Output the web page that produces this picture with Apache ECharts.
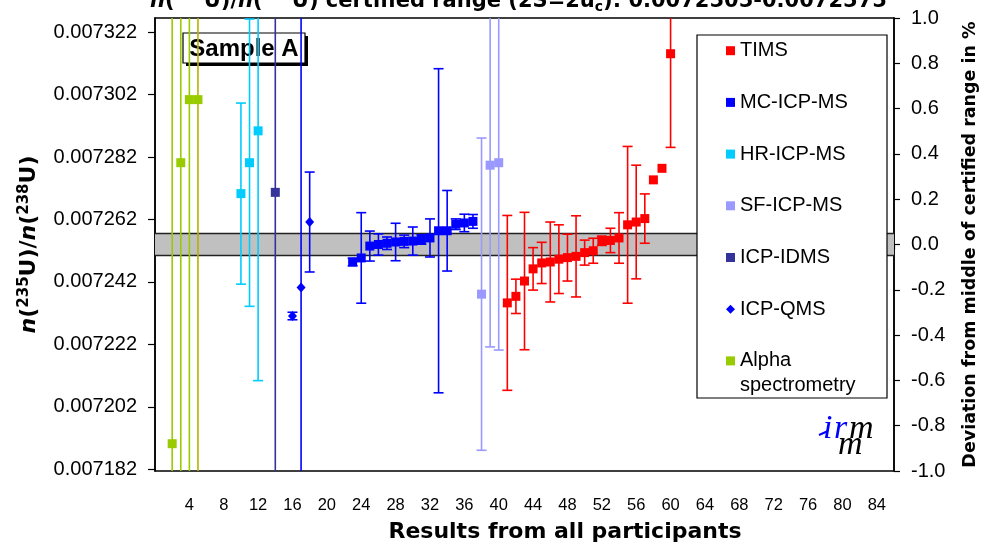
<!DOCTYPE html>
<html>
<head>
<meta charset="utf-8">
<script src="https://cdn.jsdelivr.net/npm/echarts@6/dist/echarts.min.js"></script>
<style>
  html, body { margin: 0; padding: 0; background: #ffffff; }
  #chart { width: 989px; height: 548px; }
</style>
</head>
<body>
<div id="chart"></div>
<script>
// Certified range of n(235U)/n(238U) and its middle
const certLow = 0.0072505;
const certHigh = 0.0072575;
const certMid = 0.007254;

// Axis tick labels
const xTickLabels = [4, 8, 12, 16, 20, 24, 28, 32, 36, 40, 44, 48, 52, 56, 60, 64, 68, 72, 76, 80, 84];
const ratioTickLabels = [0.007182, 0.007202, 0.007222, 0.007242, 0.007262, 0.007282, 0.007302, 0.007322];

// Participant results: position, reported ratio, expanded uncertainty
const timsX   = [41, 42, 43, 44, 45, 46, 47, 48, 49, 50, 51, 52, 53, 54, 55, 56, 57, 58, 59, 60];
const timsVal = [0.0072353, 0.0072374, 0.0072423, 0.0072462, 0.0072481, 0.0072484, 0.0072493, 0.0072498,
                 0.0072502, 0.0072514, 0.0072520, 0.0072552, 0.0072553, 0.0072561, 0.0072603, 0.0072612,
                 0.0072623, 0.0072747, 0.0072784, 0.0073151];
const timsErr = [0.0000280, 0.0000055, 0.0000220, 0.0000068, 0.0000066, 0.0000128, 0.0000110, 0.0000075,
                 0.0000130, 0.0000040, 0.0000040, 0.0000015, 0.0000039, 0.0000081, 0.0000251, 0.0000182,
                 0.0000079, 0, 0, 0.0000300];

const mcX   = [23, 24, 25, 26, 27, 28, 29, 30, 31, 32, 33, 34, 35, 36, 37];
const mcVal = [0.0072484, 0.0072497, 0.0072535, 0.0072540, 0.0072544, 0.0072548, 0.0072550, 0.0072551,
               0.0072556, 0.0072561, 0.0072584, 0.0072584, 0.0072605, 0.0072609, 0.0072614];
const mcErr = [0.0000012, 0.0000145, 0.0000048, 0.0000034, 0.0000020, 0.0000060, 0.0000020, 0.0000045,
               0.0000015, 0.0000061, 0.0000519, 0.0000129, 0.0000017, 0.0000028, 0.0000022];

const hrX   = [10, 11, 12];
const hrVal = [0.0072703, 0.0072802, 0.0072904];
const hrErr = [0.0000290, 0.0000460, 0.0000800];

const sfX   = [38, 39, 40];
const sfVal = [0.0072381, 0.0072794, 0.0072802];
const sfErr = [0.0000500, 0.0000582, 0.0000600];

const idmsX   = [14];
const idmsVal = [0.0072707];
const idmsErr = [0.0001000];

const qmsX   = [16, 17, 18];
const qmsVal = [0.0072311, 0.0072402, 0.0072612];
const qmsErr = [0.0000012, 0.0001000, 0.0000160];

const alphaX   = [2, 3, 4, 5];
const alphaVal = [0.0071902, 0.0072802, 0.0073004, 0.0073004];
const alphaErr = [0.0001600, 0.0001200, 0.0001300, 0.0001300];

// Drawing styles per measurement technique
const methods = [
  { name: 'TIMS',               color: '#ff0000', shape: 'square',  x: timsX,  v: timsVal,  e: timsErr },
  { name: 'MC-ICP-MS',          color: '#0000ff', shape: 'square',  x: mcX,    v: mcVal,    e: mcErr },
  { name: 'HR-ICP-MS',          color: '#00ccff', shape: 'square',  x: hrX,    v: hrVal,    e: hrErr },
  { name: 'SF-ICP-MS',          color: '#9999ff', shape: 'square',  x: sfX,    v: sfVal,    e: sfErr },
  { name: 'ICP-IDMS',           color: '#333399', shape: 'square',  x: idmsX,  v: idmsVal,  e: idmsErr },
  { name: 'ICP-QMS',            color: '#0000ff', shape: 'diamond', x: qmsX,   v: qmsVal,   e: qmsErr },
  { name: 'Alpha spectrometry', color: '#99cc00', shape: 'square',  x: alphaX, v: alphaVal, e: alphaErr,
    lineTint: { 5: '#b8b000' } }
];

const ratioMin = certMid * 0.99;
const ratioMax = certMid * 1.01;

function makeErrorBarRenderer(m) {
  return function (params, api) {
    const x = api.value(0), v = api.value(1), e = api.value(2);
    const c = api.coord([x, v]);
    const hi = api.coord([x, v + e]);
    const lo = api.coord([x, v - e]);
    const stroke = (m.lineTint && m.lineTint[x]) || m.color;
    const ls = { stroke: stroke, lineWidth: 1.6 };
    const cap = 5;
    const children = [];
    if (e > 0) {
      children.push({ type: 'line', shape: { x1: c[0], y1: hi[1], x2: c[0], y2: lo[1] }, style: ls });
      children.push({ type: 'line', shape: { x1: c[0] - cap, y1: hi[1], x2: c[0] + cap, y2: hi[1] }, style: ls });
      children.push({ type: 'line', shape: { x1: c[0] - cap, y1: lo[1], x2: c[0] + cap, y2: lo[1] }, style: ls });
    }
    if (m.shape === 'diamond') {
      children.push({ type: 'polygon',
        shape: { points: [[c[0], c[1] - 5], [c[0] + 4.5, c[1]], [c[0], c[1] + 5], [c[0] - 4.5, c[1]]] },
        style: { fill: m.color } });
    } else {
      children.push({ type: 'rect', shape: { x: c[0] - 4.5, y: c[1] - 4.5, width: 9, height: 9 },
        style: { fill: m.color } });
    }
    return { type: 'group', children: children };
  };
}

const seriesList = [{
  // grey band for the certified range
  name: 'certified range',
  type: 'custom',
  coordinateSystem: 'cartesian2d',
  z: 1,
  silent: true,
  data: [[0, certLow, certHigh]],
  renderItem: function (params, api) {
    const cs = params.coordSys;
    const yLo = api.coord([0, api.value(1)])[1];
    const yHi = api.coord([0, api.value(2)])[1];
    return { type: 'group', children: [
      { type: 'rect', shape: { x: cs.x, y: yHi, width: cs.width, height: yLo - yHi }, style: { fill: '#c0c0c0' } },
      { type: 'line', shape: { x1: cs.x, y1: yHi, x2: cs.x + cs.width, y2: yHi }, style: { stroke: '#222', lineWidth: 1.6 } },
      { type: 'line', shape: { x1: cs.x, y1: yLo, x2: cs.x + cs.width, y2: yLo }, style: { stroke: '#222', lineWidth: 1.6 } }
    ] };
  }
}];

methods.forEach(function (m) {
  seriesList.push({
    name: m.name,
    type: 'custom',
    coordinateSystem: 'cartesian2d',
    clip: true,
    z: 2,
    itemStyle: { color: m.color },
    data: m.x.map(function (x, i) { return [x, m.v[i], m.e[i]]; }),
    renderItem: makeErrorBarRenderer(m)
  });
});

const xTicks = [];
for (let i = 0; i <= 86; i++) xTicks.push(i);

const boldFace = 'DejaVu Sans';
const plainFace = 'Liberation Sans, Arial, sans-serif';
const logoFace = 'Liberation Serif, serif';

function ratioRich(size, supSize) {
  return {
    it:  { fontFamily: boldFace, fontWeight: 'bold', fontStyle: 'italic', fontSize: size, lineHeight: size + 4, color: '#000' },
    sup: { fontFamily: boldFace, fontWeight: 'bold', fontSize: supSize, lineHeight: supSize, verticalAlign: 'top', color: '#000' },
    sub: { fontFamily: boldFace, fontWeight: 'bold', fontSize: supSize, lineHeight: supSize, verticalAlign: 'bottom', color: '#000' }
  };
}

function logoGlyph(ch, x, y, color) {
  return { type: 'text', x: x, y: y, style: { text: ch, fontFamily: logoFace, fontStyle: 'italic',
    fontSize: 34, fill: color, verticalAlign: 'bottom' } };
}

const chart = echarts.init(document.getElementById('chart'), null, { renderer: 'canvas' });
chart.setOption({
  animation: false,
  backgroundColor: '#ffffff',
  title: {
    text: '{it|n}({sup|235}U)/{it|n}({sup|238}U) certified range (2S=2u{sub|c}): 0.0072505-0.0072575',
    left: 150,
    top: -11,
    padding: 0,
    textStyle: {
      fontFamily: boldFace, fontWeight: 'bold', fontSize: 21, lineHeight: 25, color: '#000',
      rich: ratioRich(21, 14)
    }
  },
  grid: { left: 155, right: 95, top: 18, bottom: 77, show: true, borderColor: '#000', borderWidth: 1.5,
          backgroundColor: 'transparent', outerBoundsMode: 'none' },
  legend: {
    orient: 'vertical',
    left: 726,
    top: 38.7,
    padding: 0,
    itemWidth: 9,
    itemHeight: 9,
    itemGap: 27.7,
    selectedMode: false,
    z: 20,
    textStyle: { fontFamily: plainFace, fontSize: 20, lineHeight: 24, color: '#000' },
    formatter: function (name) { return name === 'Alpha spectrometry' ? 'Alpha' : name; },
    data: methods.map(function (m) { return { name: m.name, icon: m.shape === 'diamond' ? 'diamond' : 'rect' }; })
  },
  xAxis: {
    type: 'value',
    min: 0,
    max: 86,
    name: 'Results from all participants',
    nameLocation: 'middle',
    nameGap: 50,
    nameTextStyle: { fontFamily: boldFace, fontWeight: 'bold', fontSize: 22, color: '#000', padding: [0, 0, 0, 81] },
    axisLine: { show: true, lineStyle: { color: '#000', width: 1.5 } },
    axisTick: { show: true, inside: false, length: 5, customValues: xTicks, lineStyle: { color: '#000', width: 1.2 } },
    axisLabel: { customValues: xTickLabels, margin: 26, fontFamily: plainFace, fontSize: 16.5, color: '#000' },
    splitLine: { show: false }
  },
  yAxis: [{
    type: 'value',
    position: 'left',
    min: ratioMin,
    max: ratioMax,
    name: '{it|n}({sup|235}U)/{it|n}({sup|238}U)',
    nameLocation: 'middle',
    nameRotate: 90,
    nameGap: 111,
    nameTextStyle: { fontFamily: boldFace, fontWeight: 'bold', fontSize: 22, lineHeight: 26, color: '#000',
                     rich: ratioRich(22, 15) },
    axisLine: { show: true, lineStyle: { color: '#000', width: 1.5 } },
    axisTick: { show: true, length: 7, customValues: ratioTickLabels, lineStyle: { color: '#000', width: 1.2 } },
    axisLabel: { customValues: ratioTickLabels, margin: 18, fontFamily: plainFace, fontSize: 20, color: '#000',
                 formatter: function (v) { return v.toFixed(6); } },
    splitLine: { show: false }
  }, {
    type: 'value',
    position: 'right',
    min: -1,
    max: 1,
    interval: 0.2,
    name: 'Deviation from middle of certified range in %',
    nameLocation: 'middle',
    nameRotate: 90,
    nameGap: 67,
    nameTextStyle: { fontFamily: boldFace, fontWeight: 'bold', fontSize: 17.5, color: '#000' },
    axisLine: { show: true, lineStyle: { color: '#000', width: 1.5 } },
    axisTick: { show: true, length: 6, lineStyle: { color: '#000', width: 1.2 } },
    axisLabel: { margin: 17, fontFamily: plainFace, fontSize: 20, color: '#000',
                 formatter: function (v) { return v.toFixed(1); } },
    splitLine: { show: false }
  }],
  series: seriesList,
  graphic: [
    // legend frame
    { type: 'rect', z: 10, shape: { x: 697, y: 35, width: 190, height: 363 },
      style: { fill: '#fff', stroke: '#000', lineWidth: 1.2 } },
    { type: 'text', z: 21, x: 740, y: 385,
      style: { text: 'spectrometry', fontFamily: plainFace, fontSize: 20, fill: '#000', verticalAlign: 'middle' } },
    // sample label with drop shadow
    { type: 'group', z: 10, x: 183, y: 33, children: [
      { type: 'rect', shape: { x: 3, y: 3, width: 122, height: 30 }, style: { fill: '#000' } },
      { type: 'rect', shape: { x: 0, y: 0, width: 122, height: 30 }, style: { fill: '#fff', stroke: '#000', lineWidth: 1.2 } },
      { type: 'text', x: 61, y: 16, style: { text: 'Sample A', fontFamily: plainFace, fontWeight: 'bold', fontSize: 24,
        fill: '#000', align: 'center', verticalAlign: 'middle' } }
    ] },
    // institute logo
    { type: 'group', z: 10, x: 818, y: 0, children: [
      { type: 'line', shape: { x1: 1, y1: 435, x2: 10, y2: 431 }, style: { stroke: '#0000ff', lineWidth: 2 } },
      logoGlyph('i', 5, 446, '#0000ff'),
      logoGlyph('r', 16, 446, '#0000ff'),
      logoGlyph('m', 31, 446, '#000'),
      logoGlyph('m', 20, 462, '#000')
    ] }
  ]
});
</script>
</body>
</html>
